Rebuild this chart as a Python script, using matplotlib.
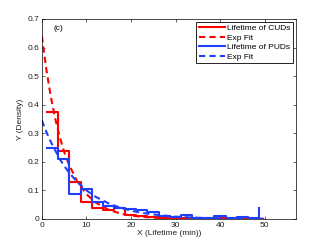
import matplotlib
matplotlib.use("Agg")
import matplotlib.pyplot as plt

plt.rcParams['font.family'] = ['Liberation Sans', 'DejaVu Sans']

# Histogram (stairs) data
bin_starts = [1.2, 3.7, 6.2, 8.7, 11.2, 13.7, 16.2, 18.7, 21.2, 23.7, 26.2,
              28.7, 31.2, 33.7, 36.2, 38.7, 41.2, 43.7, 46.2, 48.7]
cud_density = [0.375, 0.238, 0.128, 0.06, 0.038, 0.033, 0.038, 0.015, 0.012,
               0.008, 0.004, 0.004, 0.003, 0.002, 0.002, 0.002, 0.002, 0.003,
               0.005, 0.0]
pud_density = [0.248, 0.21, 0.088, 0.105, 0.06, 0.045, 0.04, 0.036, 0.032,
               0.025, 0.01, 0.007, 0.015, 0.005, 0.005, 0.012, 0.005, 0.008,
               0.005, 0.04]

# Exponential fit curves
fit_x = [0, 1, 2, 3, 4, 5, 6, 8, 10, 12, 15, 18, 22, 26, 30, 35, 40, 50]
cud_fit = [0.64, 0.524, 0.429, 0.351, 0.288, 0.235, 0.193, 0.129, 0.087,
           0.058, 0.032, 0.017, 0.008, 0.0035, 0.0016, 0.0006, 0.0002, 0.0]
pud_fit = [0.345, 0.305, 0.27, 0.24, 0.21, 0.186, 0.164, 0.128, 0.1, 0.078,
           0.054, 0.037, 0.022, 0.014, 0.008, 0.004, 0.002, 0.0007]

red = '#ff0000'
blue = '#1f3fff'

fig = plt.figure(figsize=(3.27, 2.46), dpi=100)
ax = fig.add_axes([0.128, 0.110, 0.777, 0.813])

ax.step(bin_starts, cud_density, where='post', color=red, lw=1.5,
        label='Lifetime of CUDs')
ax.plot(fit_x, cud_fit, color=red, lw=1.5, ls=(0, (3, 2)), label='Exp Fit')
ax.step(bin_starts, pud_density, where='post', color=blue, lw=1.5,
        label='Lifetime of PUDs')
ax.plot(fit_x, pud_fit, color=blue, lw=1.5, ls=(0, (3, 2)), label='Exp Fit')

ax.set_xlim(0, 57)
ax.set_ylim(0, 0.7)
ax.set_xticks([0, 10, 20, 30, 40, 50])
ax.set_yticks([0, 0.1, 0.2, 0.3, 0.4, 0.5, 0.6, 0.7])
ax.set_yticklabels(['0', '0.1', '0.2', '0.3', '0.4', '0.5', '0.6', '0.7'])
ax.tick_params(direction='in', top=True, right=True, labelsize=6,
               length=2.5, width=0.5, pad=2, colors='#222222')
for s in ax.spines.values():
    s.set_linewidth(0.5)

ax.set_xlabel('X (Lifetime (min))', fontsize=6, labelpad=1, color='#222222')
ax.set_ylabel('Y (Density)', fontsize=6, labelpad=2, color='#222222')
ax.text(2.6, 0.668, '(c)', fontsize=6, ha='left', va='center')

leg = ax.legend(loc='upper right', fontsize=6, handlelength=3.1,
                handletextpad=0.3, labelspacing=0.2, borderpad=0.3,
                borderaxespad=0.35, fancybox=False, framealpha=1,
                edgecolor='black')
leg.get_frame().set_linewidth(0.6)

fig.savefig('out.png', dpi=100)
